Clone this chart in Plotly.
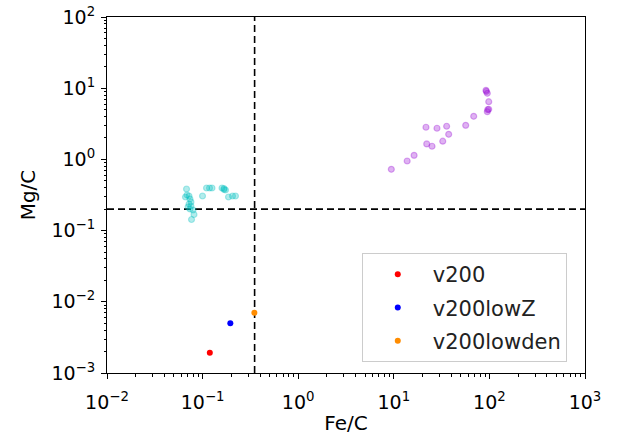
import plotly.graph_objects as go

# ---- data ----
cyan_fe = [0.0679, 0.0662, 0.0687, 0.0721, 0.0738, 0.0756, 0.0721, 0.0756, 0.0704, 0.0738,
           0.0794, 0.0813, 0.0766, 0.0998, 0.1099, 0.1181, 0.1254, 0.1596, 0.1674, 0.1736,
           0.1674, 0.1866, 0.2055, 0.2208]
cyan_mg = [0.384, 0.2964, 0.3162, 0.3062, 0.2779, 0.2522, 0.2364, 0.2215, 0.2145, 0.2010,
           0.1946, 0.1683, 0.1432, 0.3062, 0.3966, 0.3966, 0.3966, 0.3966, 0.3903, 0.3717,
           0.3778, 0.2964, 0.3062, 0.3062]

purple_fe = [9.42, 13.8, 16.3, 22.1, 25.1, 21.7, 28.3, 35.7, 37.5, 32.5, 56.5, 68.5,
             92.1, 95.1, 98.4, 95.1, 98.4, 93.0, 96.0]
purple_mg = [0.726, 0.95, 1.14, 1.65, 1.53, 2.83, 2.74, 2.92, 2.25, 1.80, 3.01, 4.03,
             9.35, 8.48, 6.46, 4.68, 5.06, 9.0, 5.0]

runs = ["v200", "v200lowZ", "v200lowden"]
run_fe = [0.119, 0.195, 0.348]
run_mg = [0.00193, 0.00499, 0.00703]
run_colors = ["#ff0000", "#0000ff", "#ff8c00"]

fe_cut = 0.35
mg_cut = 0.2
x_range = [1e-2, 1e3]
y_range = [1e-3, 1e2]

x_ticks = [1e-2, 1e-1, 1e0, 1e1, 1e2, 1e3]
x_ticktext = ["10<sup>−2</sup>", "10<sup>−1</sup>", "10<sup>0</sup>", "10<sup>1</sup>",
              "10<sup>2</sup>", "10<sup>3</sup>"]
y_ticks = [1e-3, 1e-2, 1e-1, 1e0, 1e1, 1e2]
y_ticktext = ["10<sup>−3</sup>", "10<sup>−2</sup>", "10<sup>−1</sup>", "10<sup>0</sup>",
              "10<sup>1</sup>", "10<sup>2</sup>"]
minor_digits = [2, 3, 4, 5, 6, 7, 8, 9]
x_minor = [d * 10.0 ** e for e in range(-2, 3) for d in minor_digits]
y_minor = [d * 10.0 ** e for e in range(-3, 2) for d in minor_digits]

fig = go.Figure()

# dashed threshold lines
fig.add_trace(go.Scatter(x=x_range, y=[mg_cut, mg_cut], mode="lines",
                         line=dict(color="black", width=1.6, dash="7px,4px"),
                         showlegend=False, hoverinfo="skip"))
fig.add_trace(go.Scatter(x=[fe_cut, fe_cut], y=y_range, mode="lines",
                         line=dict(color="black", width=1.6, dash="7px,4px"),
                         showlegend=False, hoverinfo="skip"))

fig.add_trace(go.Scatter(x=cyan_fe, y=cyan_mg, mode="markers",
                         marker=dict(size=6, color="rgba(0,191,191,0.3)",
                                     line=dict(color="rgba(0,191,191,0.3)", width=1.2)),
                         showlegend=False))
fig.add_trace(go.Scatter(x=purple_fe, y=purple_mg, mode="markers",
                         marker=dict(size=6, color="rgba(148,0,211,0.3)",
                                     line=dict(color="rgba(148,0,211,0.3)", width=1.2)),
                         showlegend=False))

for name, fe, mg, c in zip(runs, run_fe, run_mg, run_colors):
    fig.add_trace(go.Scatter(x=[fe], y=[mg], mode="markers", name=name, legendgroup=name,
                             marker=dict(size=6, color=c, line=dict(width=0))))

axis_common = dict(type="log", showline=True, linecolor="black", linewidth=1, mirror=True,
                   ticks="outside", ticklen=5, tickwidth=1, tickcolor="black",
                   showgrid=False, zeroline=False, automargin=False,
                   tickfont=dict(family="DejaVu Sans", size=19, color="black"))

fig.update_xaxes(range=[-2, 3], tickvals=x_ticks, ticktext=x_ticktext,
                 ticklabelstandoff=7,
                 minor=dict(tickvals=x_minor, ticks="outside", ticklen=2.5, tickwidth=0.8,
                            tickcolor="black", showgrid=False),
                 title=dict(text="Fe/C", font=dict(family="DejaVu Sans", size=20, color="black"),
                            standoff=12),
                 **axis_common)
fig.update_yaxes(range=[-3, 2], tickvals=y_ticks, ticktext=y_ticktext,
                 ticklabelstandoff=2,
                 minor=dict(tickvals=y_minor, ticks="outside", ticklen=2.5, tickwidth=0.8,
                            tickcolor="black", showgrid=False),
                 title=dict(text="Mg/C", font=dict(family="DejaVu Sans", size=20, color="black"),
                            standoff=10),
                 **axis_common)

fig.update_layout(
    width=626, height=435,
    margin=dict(l=107, r=41, t=17, b=62),
    paper_bgcolor="white", plot_bgcolor="white",
    font=dict(family="DejaVu Sans", color="black"),
    legend=dict(x=0.533, y=0.337, xanchor="left", yanchor="top",
                bgcolor="white", bordercolor="#cccccc", borderwidth=1,
                font=dict(family="DejaVu Sans", size=21, color="#222222"),
                tracegroupgap=3, itemwidth=60),
)

fig.write_html("out.html")
